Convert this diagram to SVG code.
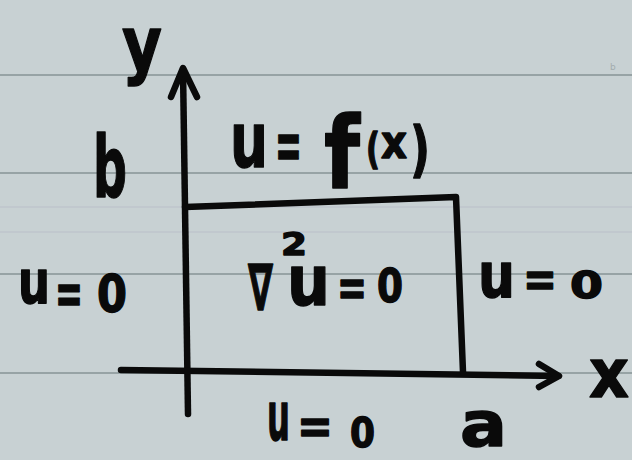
<svg xmlns="http://www.w3.org/2000/svg" width="632" height="460" viewBox="0 0 632 460">
<style>
.ink{fill:#0a0a0a;stroke:#0a0a0a;stroke-width:1.4;stroke-linejoin:round;font-family:"DejaVu Sans","Liberation Sans",sans-serif;font-weight:bold}
.rule{stroke:#97a3a5;stroke-width:2.2}
.faint{stroke:#bfc5cc;stroke-width:1.5}
.pen{fill:none;stroke:#0a0a0a;stroke-width:6.5;stroke-linecap:round;stroke-linejoin:round}
</style>
<g id="paper">
<rect width="632" height="460" fill="#c8d1d3"/>
<line class="rule" x1="0" y1="75" x2="632" y2="75"/>
<line class="rule" x1="0" y1="173" x2="632" y2="173"/>
<line class="faint" x1="0" y1="207" x2="632" y2="207"/>
<line class="faint" x1="0" y1="232" x2="632" y2="232"/>
<line class="rule" x1="0" y1="274" x2="632" y2="274"/>
<line class="rule" x1="0" y1="373" x2="632" y2="373"/>
<text x="610" y="70" font-family="DejaVu Sans,sans-serif" font-size="9" fill="#a3acae">b</text>
</g>
<g id="connectors">
<path class="pen" d="M183 70 L188 414"/>
<path class="pen" d="M171 97 L183 68 L197 97"/>
<path class="pen" d="M121 370 L558 376"/>
<path class="pen" d="M539 364 L559 376 L539 387"/>
</g>
<g id="region">
<path class="pen" d="M185 207 L456 197 L463 372"/>
</g>
<g id="label-y">
<text class="ink" x="122" y="70" font-size="75" textLength="40" lengthAdjust="spacingAndGlyphs">y</text>
</g>
<g id="label-b">
<text class="ink" x="93" y="197" font-size="85" textLength="34" lengthAdjust="spacingAndGlyphs">b</text>
</g>
<g id="label-top">
<text class="ink"><tspan x="230" y="167" font-size="77" textLength="38" lengthAdjust="spacingAndGlyphs">u</tspan><tspan x="275" y="169" font-size="69" textLength="27" lengthAdjust="spacingAndGlyphs">=</tspan><tspan x="324" y="188" font-size="100" textLength="36" lengthAdjust="spacingAndGlyphs">f</tspan><tspan x="366" y="164" font-size="43" textLength="14" lengthAdjust="spacingAndGlyphs">(</tspan><tspan x="381" y="158" font-size="46" textLength="26" lengthAdjust="spacingAndGlyphs">x</tspan><tspan x="410" y="170" font-size="60" textLength="20" lengthAdjust="spacingAndGlyphs">)</tspan></text>
</g>
<g id="label-left">
<text class="ink"><tspan x="18" y="303" font-size="60" textLength="32" lengthAdjust="spacingAndGlyphs">u</tspan><tspan x="55" y="313" font-size="59" textLength="28" lengthAdjust="spacingAndGlyphs">=</tspan><tspan x="97" y="312" font-size="51" textLength="30" lengthAdjust="spacingAndGlyphs">0</tspan></text>
</g>
<g id="label-laplace">
<text class="ink"><tspan x="248" y="310" font-size="64" textLength="25" lengthAdjust="spacingAndGlyphs">∇</tspan><tspan x="281" y="255" font-size="32" textLength="26" lengthAdjust="spacingAndGlyphs">2</tspan><tspan x="287" y="305" font-size="70" textLength="43" lengthAdjust="spacingAndGlyphs">u</tspan><tspan x="337" y="305" font-size="52" textLength="30" lengthAdjust="spacingAndGlyphs">=</tspan><tspan x="377" y="302" font-size="47" textLength="26" lengthAdjust="spacingAndGlyphs">0</tspan></text>
</g>
<g id="label-right">
<text class="ink"><tspan x="478" y="297" font-size="62" textLength="37" lengthAdjust="spacingAndGlyphs">u</tspan><tspan x="523" y="296" font-size="50" textLength="34" lengthAdjust="spacingAndGlyphs">=</tspan><tspan x="570" y="298" font-size="38" textLength="33" lengthAdjust="spacingAndGlyphs">0</tspan></text>
</g>
<g id="label-bottom">
<text class="ink"><tspan x="267" y="440" font-size="68" textLength="23" lengthAdjust="spacingAndGlyphs">u</tspan><tspan x="297" y="443" font-size="50" textLength="36" lengthAdjust="spacingAndGlyphs">=</tspan><tspan x="350" y="447" font-size="41" textLength="25" lengthAdjust="spacingAndGlyphs">0</tspan></text>
</g>
<g id="label-a">
<text class="ink" x="460" y="446" font-size="62" textLength="47" lengthAdjust="spacingAndGlyphs">a</text>
</g>
<g id="label-x">
<text class="ink" x="589" y="397" font-size="68" textLength="40" lengthAdjust="spacingAndGlyphs">x</text>
</g>
</svg>
